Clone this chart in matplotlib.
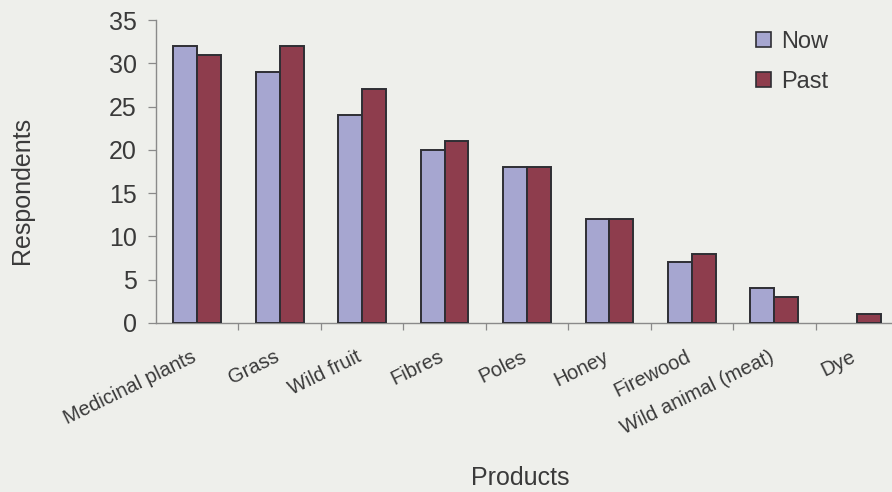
import matplotlib
matplotlib.use("Agg")
import matplotlib.pyplot as plt
import matplotlib.transforms as mtransforms
from matplotlib.patches import Patch
import numpy as np

plt.rcParams['font.family'] = ['Liberation Sans', 'DejaVu Sans']

products = ["Medicinal plants", "Grass", "Wild fruit", "Fibres", "Poles",
            "Honey", "Firewood", "Wild animal (meat)", "Dye"]
now_counts = [32, 29, 24, 20, 18, 12, 7, 4, 0]
past_counts = [31, 32, 27, 21, 18, 12, 8, 3, 1]
y_ticks = [0, 5, 10, 15, 20, 25, 30, 35]
series_names = ["Now", "Past"]

bg = "#eeefeb"
now_color = "#a6a6d0"
past_color = "#8e3d4d"
edge = "#2e2e34"
text_color = "#3a3a3a"
axis_color = "#8a8a8a"

fig = plt.figure(figsize=(8.92, 4.92), dpi=100, facecolor=bg)
ax = fig.add_axes([156 / 892, 1 - 323 / 492, 742 / 892, 303 / 492])
ax.set_facecolor(bg)

centers = np.arange(len(products)) + 0.5
w = 0.29


def edge_widths(values):
    # empty bars get no outline
    return [1.4 if v > 0 else 0 for v in values]


ax.bar(centers - w / 2, now_counts, width=w, color=now_color,
       edgecolor=edge, linewidth=edge_widths(now_counts), zorder=3)
ax.bar(centers + w / 2, past_counts, width=w, color=past_color,
       edgecolor=edge, linewidth=edge_widths(past_counts), zorder=3)

ax.set_xlim(0, len(products))
ax.set_ylim(0, 35)

for s in ("top", "right"):
    ax.spines[s].set_visible(False)
for s in ("left", "bottom"):
    ax.spines[s].set_color(axis_color)
    ax.spines[s].set_linewidth(1.0)

ax.set_yticks(y_ticks)
ax.set_yticklabels([str(v) for v in y_ticks], fontsize=18, color=text_color)
ax.tick_params(axis="y", length=6, width=0.9, color=axis_color, pad=8)

# x ticks sit on the category boundaries
ax.set_xticks(np.arange(1, len(products)))
ax.set_xticklabels([])
ax.tick_params(axis="x", length=5, width=0.9, color=axis_color)

# rotated category names, right end anchored just below each group
base = mtransforms.blended_transform_factory(ax.transData, ax.transAxes)
offset = mtransforms.ScaledTranslation(-6 / 100, -24 / 100, fig.dpi_scale_trans)
for c, name in zip(centers, products):
    ax.text(c, 0, name, transform=base + offset, rotation=26,
            rotation_mode="anchor", ha="right", va="top",
            fontsize=14.5, color=text_color)

fig.text(22 / 892, 1 - 190 / 492, "Respondents", rotation=90, fontsize=18,
         color=text_color, ha="center", va="center")
fig.text(520 / 892, 1 - 478 / 492, "Products", fontsize=18, color=text_color,
         ha="center", va="center")

handles = [Patch(facecolor=now_color, edgecolor=edge, linewidth=1.2),
           Patch(facecolor=past_color, edgecolor=edge, linewidth=1.2)]
fig.legend(handles, series_names, loc="upper left",
           bbox_to_anchor=(756 / 892, 1 - 31 / 492), frameon=False,
           fontsize=17, handlelength=0.62, handleheight=0.62,
           handletextpad=0.45, labelspacing=0.75, labelcolor=text_color,
           borderaxespad=0, borderpad=0)

fig.savefig("out.png", dpi=100, facecolor=bg)
